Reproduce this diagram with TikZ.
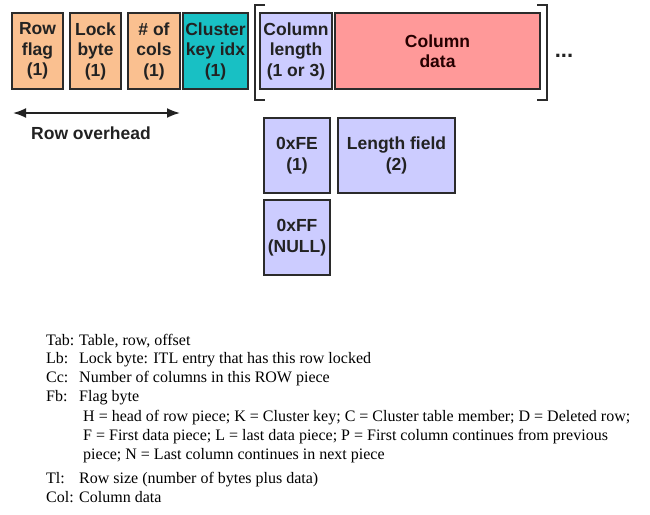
\documentclass[tikz,border=0pt]{standalone}
\usepackage{fontspec}
\setmainfont{Liberation Serif}
\newfontfamily\boxfont{Liberation Sans}
\usetikzlibrary{arrows.meta}
\definecolor{peach}{HTML}{FAC090}
\definecolor{tealfill}{HTML}{18C0C4}
\definecolor{lav}{HTML}{CCCCFF}
\definecolor{pinkfill}{HTML}{FF9999}
\definecolor{edge}{HTML}{2B2B2B}
\definecolor{ink}{HTML}{222222}
\begin{document}
\begin{tikzpicture}[x=1pt,y=-1pt,
  fieldbox/.style={draw=edge, line width=1.3pt, inner sep=0pt, align=center, text=ink,
    font=\boxfont\bfseries\fontsize{17.5}{20.5}\selectfont},
  bracketline/.style={draw=edge, line width=1.5pt},
  boldlabel/.style={inner sep=0pt, text=ink, font=\boxfont\bfseries\fontsize{17.5}{20}\selectfont},
  legend/.style={anchor=base west, inner sep=0pt, text=black, font=\fontsize{16}{19}\selectfont}]
\useasboundingbox[fill=white] (0,0) rectangle (650,514);

% header fields
\node[fieldbox, fill=peach, minimum width=51, minimum height=76] (rf) at (37.5,51) {Row\\flag\\(1)};
\node[fieldbox, fill=peach, minimum width=51, minimum height=76] (lb) at (95.5,51) {Lock\\byte\\(1)};
\node[fieldbox, fill=peach, minimum width=52, minimum height=76] (nc) at (154,51) {\# of\\cols\\(1)};
\node[fieldbox, fill=tealfill, minimum width=65, minimum height=76] (ck) at (215.5,51) {Cluster\\key idx\\(1)};

% column
\node[fieldbox, fill=lav, minimum width=72, minimum height=76] (cl) at (296,51) {Column\\length\\(1 or 3)};
\node[fieldbox, fill=pinkfill, minimum width=205, minimum height=76, text=black!85!red] (cd) at (437.5,51) {Column\\data};

% brackets
\draw[bracketline] (265,5) -- (255,5) -- (255,100) -- (265,100);
\draw[bracketline] (537,5) -- (547,5) -- (547,100) -- (537,100);
\node[boldlabel, anchor=base, font=\boxfont\bfseries\fontsize{22}{22}\selectfont] (dots) at (564,57) {...};

% length variants
\node[fieldbox, fill=lav, minimum width=66, minimum height=75] (fe) at (297,155.5) {0xFE\\(1)};
\node[fieldbox, fill=lav, minimum width=117, minimum height=75] (lf) at (396.5,155.5) {Length field\\(2)};
\node[fieldbox, fill=lav, minimum width=66, minimum height=75] (ff) at (297,237.5) {0xFF\\(NULL)};

% row overhead arrow
\coordinate (ra) at (13,113);
\coordinate (rb) at (180,113);
\draw[{Latex[length=13pt,width=10pt]}-{Latex[length=13pt,width=10pt]}, line width=1.8pt, draw=ink] (ra) -- (rb);
\node[boldlabel] (ro) at (91,133) {Row overhead};

% legend
\node[legend] (k1) at (46,345) {Tab:};
\node[legend] (v1) at (79,345) {Table, row, offset};
\node[legend] (k2) at (46,363.5) {Lb:};
\node[legend] (v2) at (79,363.5) {Lock byte: ITL entry that has this row locked};
\node[legend] (k3) at (46,382) {Cc:};
\node[legend] (v3) at (79,382) {Number of columns in this ROW piece};
\node[legend] (k4) at (46,401) {Fb:};
\node[legend] (v4) at (79,401) {Flag byte};
\node[legend] (v5) at (83,421) {H = head of row piece; K = Cluster key; C = Cluster table member; D = Deleted row;};
\node[legend] (v6) at (83,440) {F = First data piece; L = last data piece; P = First column continues from previous};
\node[legend] (v7) at (83,459) {piece; N = Last column continues in next piece};
\node[legend] (k8) at (46,483) {Tl:};
\node[legend] (v8) at (79,483) {Row size (number of bytes plus data)};
\node[legend] (k9) at (46,502) {Col:};
\node[legend] (v9) at (79,502) {Column data};
\end{tikzpicture}
\end{document}
